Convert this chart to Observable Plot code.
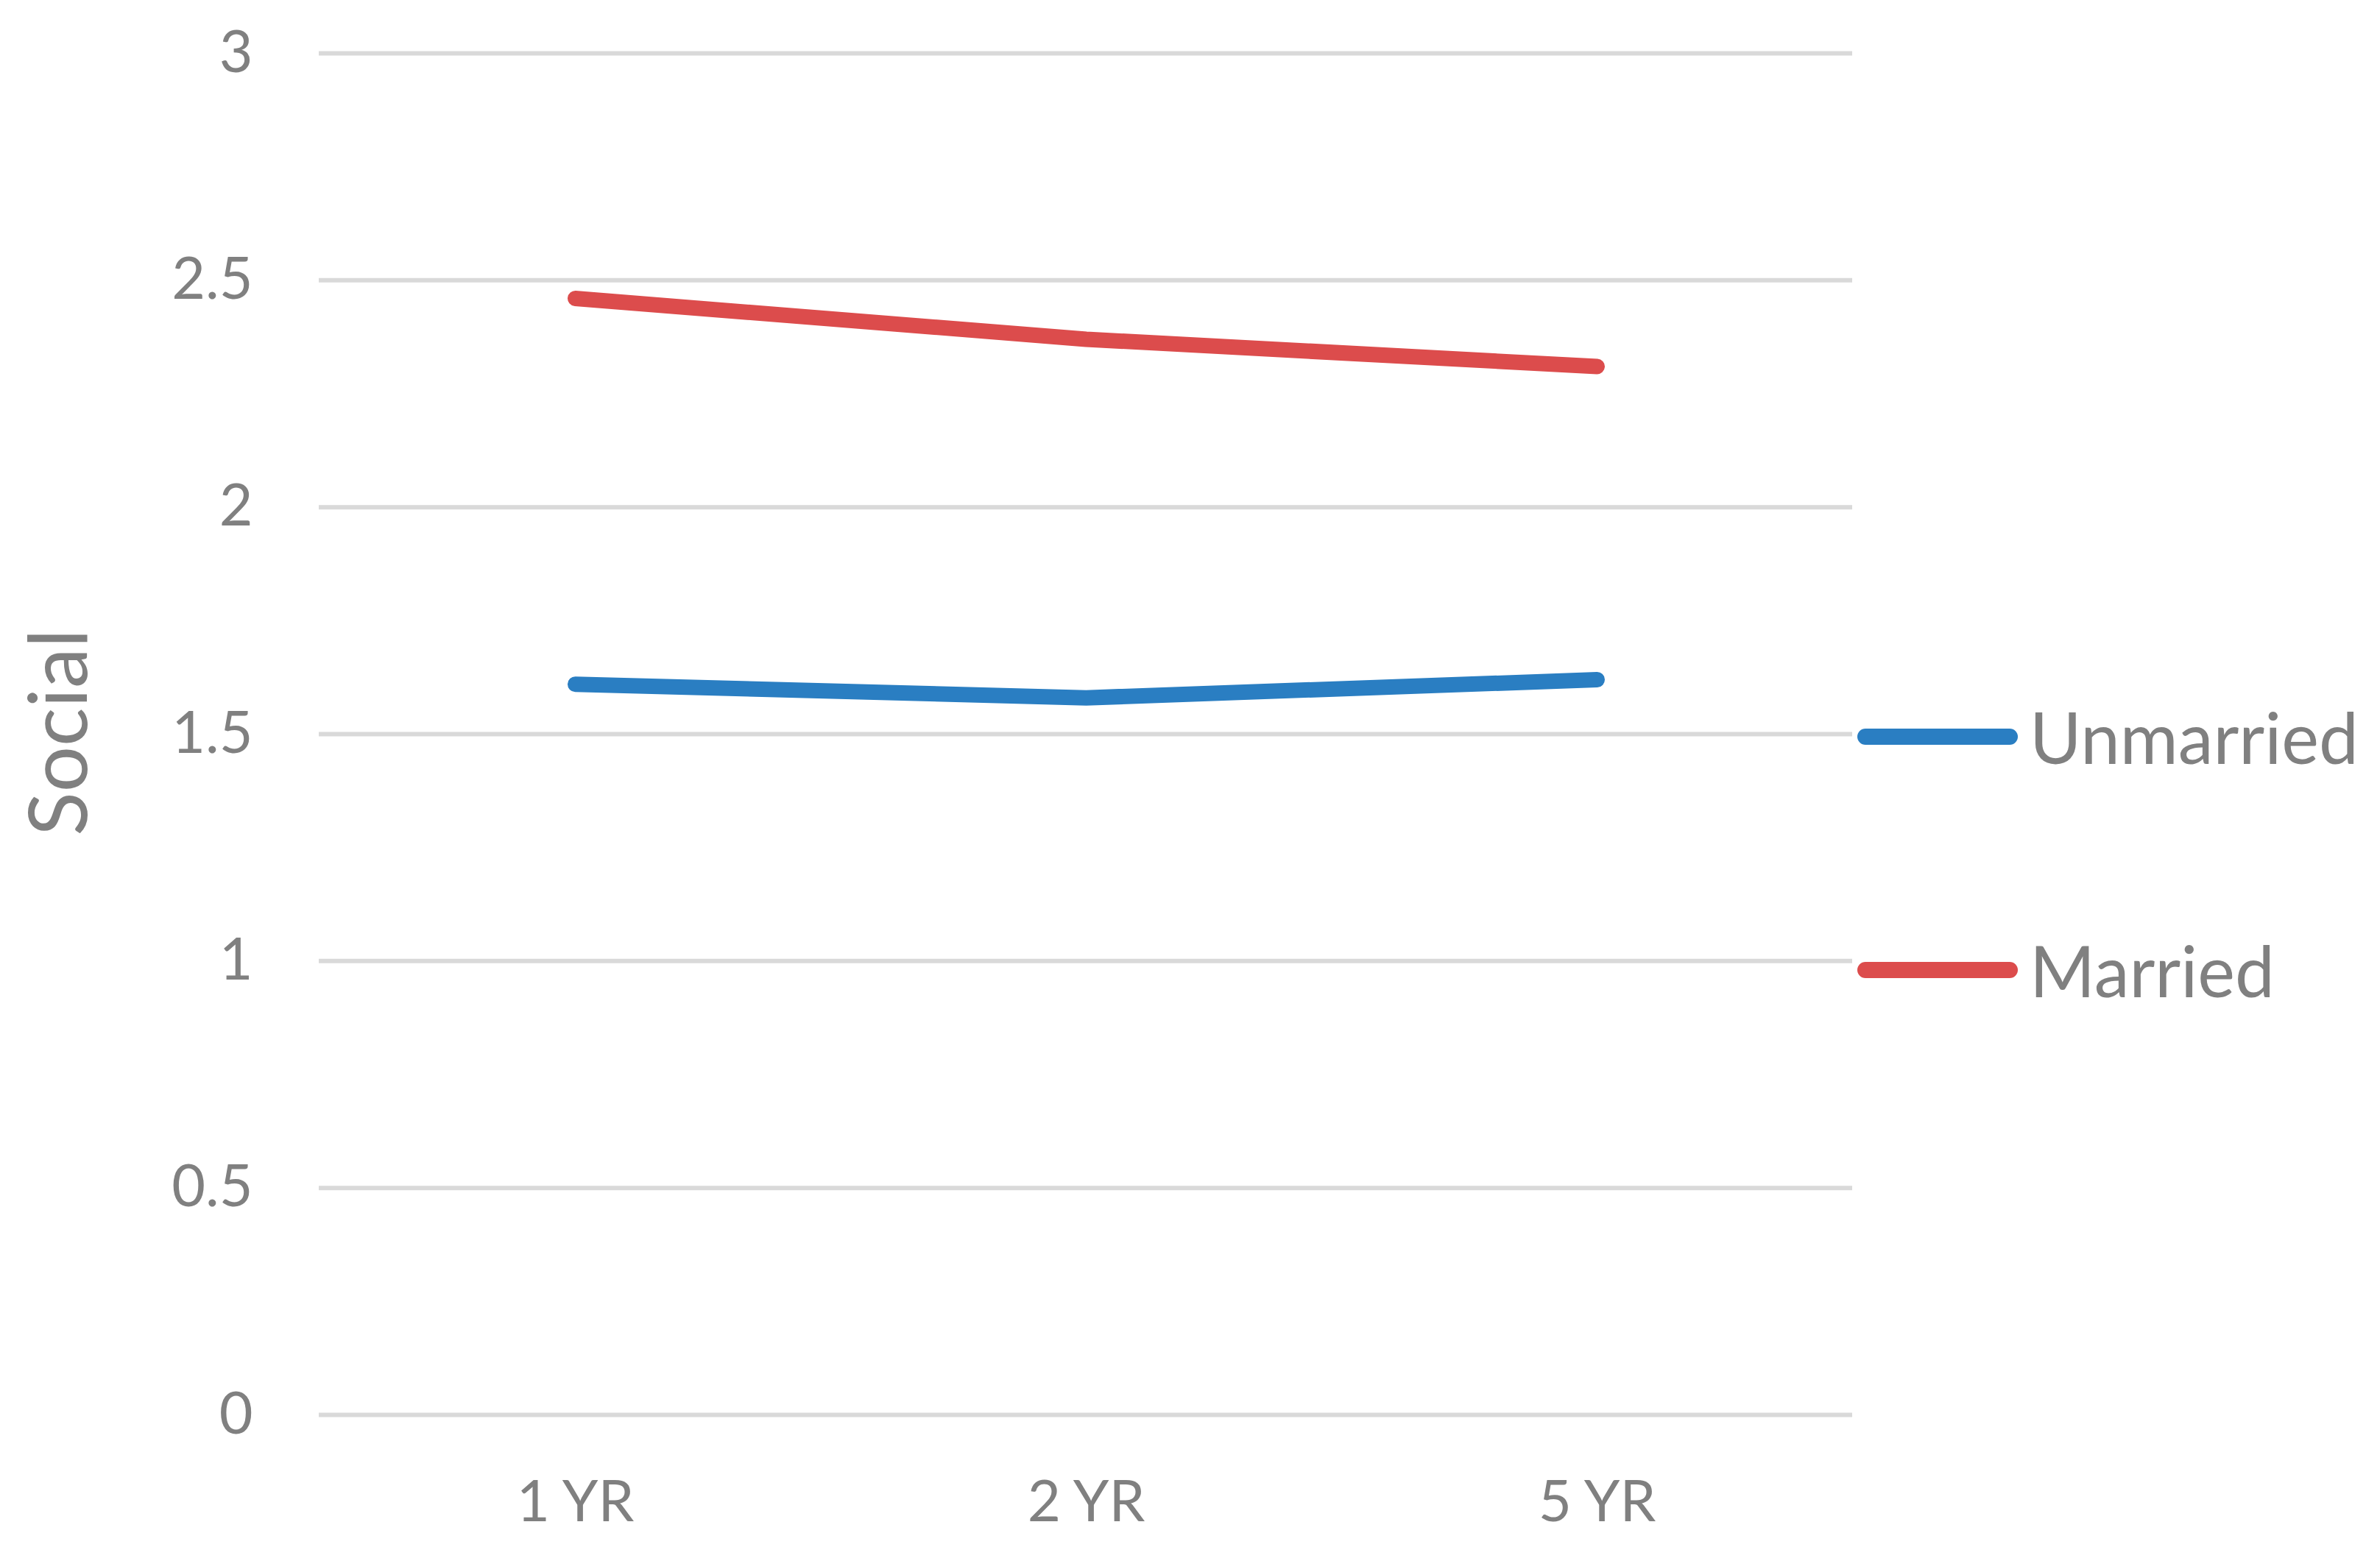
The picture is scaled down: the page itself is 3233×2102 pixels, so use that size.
<!DOCTYPE html>
<html>
<head>
<meta charset="utf-8">
<script src="https://cdn.jsdelivr.net/npm/d3@7"></script>
<script src="https://cdn.jsdelivr.net/npm/@observablehq/plot@0.6"></script>
<style>
  html, body { margin: 0; padding: 0; background: #ffffff; }
  #wrap { position: relative; width: 3233px; height: 2102px; background: #ffffff; font-family: Lato, "Noto Sans", sans-serif; color: #808080; overflow: hidden; }
  #ylabel { position: absolute; left: 75px; top: 995px; transform: translate(-50%, -50%) rotate(-90deg); font-size: 110px; white-space: nowrap; line-height: 1; }
  .leg { position: absolute; left: 2523px; display: flex; align-items: center; transform: translateY(-50%); }
  .leg .sw { width: 218px; height: 22px; border-radius: 11px; margin-right: 16px; }
  .leg .tx { font-size: 96px; line-height: 1; white-space: nowrap; }
</style>
</head>
<body>
<div id="wrap"></div>
<script>
const categories = ["1 YR", "2 YR", "5 YR"];
const unmarried = [1.61, 1.58, 1.62];
const married = [2.46, 2.37, 2.31];
const seriesNames = ["Unmarried", "Married"];
const seriesColors = ["#2a7ec2", "#dc4c4c"];
const yTicks = [0, 0.5, 1, 1.5, 2, 2.5, 3];
const yLabel = "Social";

const seriesValues = [unmarried, married];
const data = [];
seriesNames.forEach((s, i) => {
  categories.forEach((c, j) => data.push({ series: s, cat: c, value: seriesValues[i][j] }));
});

const chart = Plot.plot({
  width: 3233,
  height: 2102,
  marginLeft: 433,
  marginRight: 717,
  marginTop: 72,
  marginBottom: 180,
  style: { fontFamily: "Lato, 'Noto Sans', sans-serif", color: "#808080", background: "#ffffff" },
  x: { type: "point", domain: categories, padding: 0.5, label: null },
  y: { domain: [0, 3], label: null },
  color: { domain: seriesNames, range: seriesColors },
  marks: [
    Plot.ruleY(yTicks, { stroke: "#d9d9d9", strokeWidth: 6 }),
    Plot.axisY({ ticks: yTicks, tickSize: 0, tickPadding: 90, fontSize: 79, tickFormat: d => String(d), label: null }),
    Plot.axisX({ tickSize: 0, tickPadding: 89, fontSize: 78, label: null }),
    Plot.line(data, { x: "cat", y: "value", z: "series", stroke: "series", strokeWidth: 21, strokeLinecap: "round", strokeLinejoin: "round" })
  ]
});

const wrap = document.getElementById("wrap");
chart.style.position = "absolute";
chart.style.left = "0px";
chart.style.top = "0px";
wrap.appendChild(chart);

const yl = document.createElement("div");
yl.id = "ylabel";
yl.textContent = yLabel;
wrap.appendChild(yl);

const legendTops = [1001, 1318];
seriesNames.forEach((s, i) => {
  const d = document.createElement("div");
  d.className = "leg";
  d.style.top = legendTops[i] + "px";
  const sw = document.createElement("div");
  sw.className = "sw";
  sw.style.background = seriesColors[i];
  const tx = document.createElement("div");
  tx.className = "tx";
  tx.textContent = s;
  d.appendChild(sw);
  d.appendChild(tx);
  wrap.appendChild(d);
});
</script>
</body>
</html>
